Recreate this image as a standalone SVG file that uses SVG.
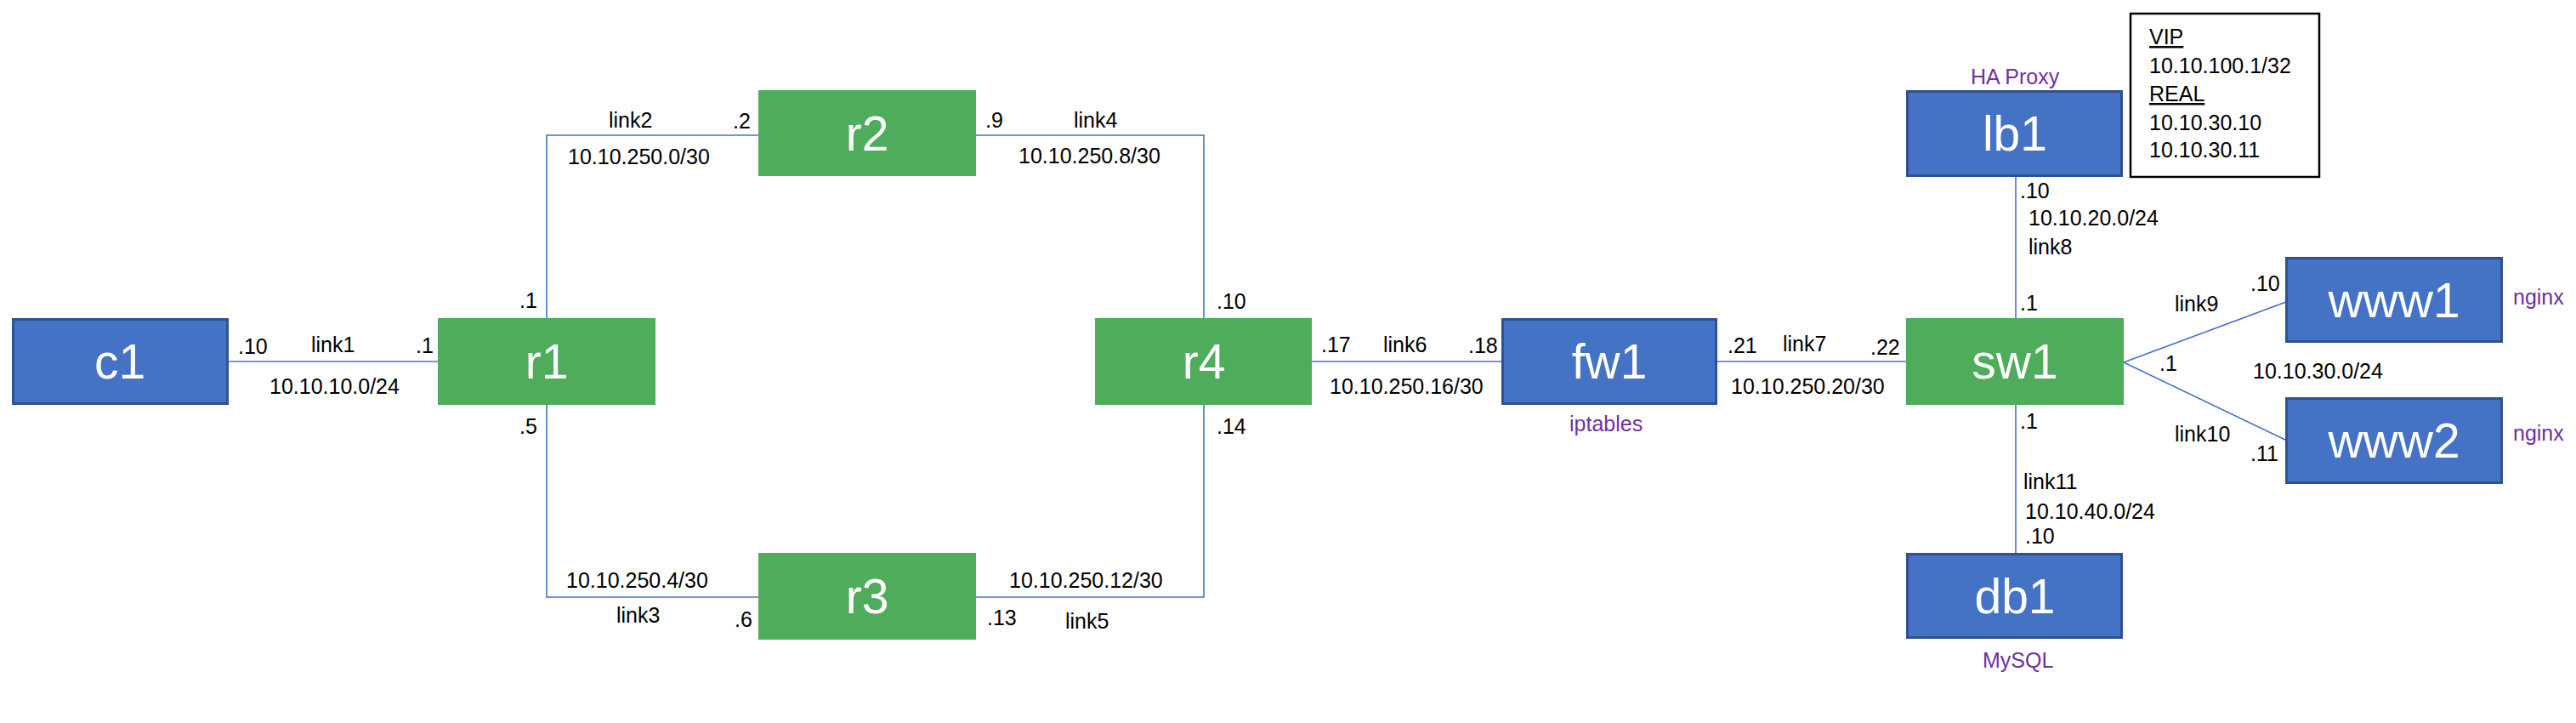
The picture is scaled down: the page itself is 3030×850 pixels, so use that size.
<svg xmlns="http://www.w3.org/2000/svg" width="3030" height="850" viewBox="0 0 3030 850">
<style>
.bg{fill:#ffffff}
.blue{fill:#4472C4;stroke:#2F528F;stroke-width:3}
.green{fill:#4EAC5B}
.lbl{font-family:"Liberation Sans",Arial,sans-serif;font-size:57px;fill:#ffffff;text-anchor:middle}
.t{font-family:"Liberation Sans",Arial,sans-serif;font-size:25px;fill:#000000}
.p{font-family:"Liberation Sans",Arial,sans-serif;font-size:25px;fill:#7030A0}
.ln{fill:none;stroke:#4472C4;stroke-width:1.6}
.info{fill:#ffffff;stroke:#000000;stroke-width:2.5}
</style>
<rect class="bg" x="0" y="0" width="3030" height="850"/>
<g id="connectors">
<line class="ln" x1="269" y1="425" x2="515" y2="425"/>
<polyline class="ln" points="643,374 643,159 892,159"/>
<polyline class="ln" points="643,476 643,702 892,702"/>
<polyline class="ln" points="1148,159 1416,159 1416,374"/>
<polyline class="ln" points="1148,702 1416,702 1416,476"/>
<line class="ln" x1="1543" y1="425" x2="1766" y2="425"/>
<line class="ln" x1="2020" y1="425" x2="2242" y2="425"/>
<line class="ln" x1="2371" y1="207" x2="2371" y2="374"/>
<line class="ln" x1="2498" y1="426" x2="2689" y2="355"/>
<line class="ln" x1="2498" y1="426" x2="2690" y2="518"/>
<line class="ln" x1="2371" y1="476" x2="2371" y2="650"/>
</g>
<g id="link-labels">
<text class="t" x="280" y="416">.10</text>
<text class="t" x="366" y="414">link1</text>
<text class="t" x="489" y="415">.1</text>
<text class="t" x="317" y="463">10.10.10.0/24</text>
<text class="t" x="611" y="362">.1</text>
<text class="t" x="716" y="150">link2</text>
<text class="t" x="862" y="151">.2</text>
<text class="t" x="668" y="193">10.10.250.0/30</text>
<text class="t" x="611" y="510">.5</text>
<text class="t" x="666" y="691">10.10.250.4/30</text>
<text class="t" x="725" y="732">link3</text>
<text class="t" x="864" y="737">.6</text>
<text class="t" x="1159" y="150">.9</text>
<text class="t" x="1263" y="150">link4</text>
<text class="t" x="1198" y="192">10.10.250.8/30</text>
<text class="t" x="1431" y="363">.10</text>
<text class="t" x="1431" y="510">.14</text>
<text class="t" x="1187" y="691">10.10.250.12/30</text>
<text class="t" x="1161" y="735">.13</text>
<text class="t" x="1253" y="739">link5</text>
<text class="t" x="1554" y="414">.17</text>
<text class="t" x="1627" y="414">link6</text>
<text class="t" x="1727" y="415">.18</text>
<text class="t" x="1564" y="463">10.10.250.16/30</text>
<text class="t" x="2032" y="415">.21</text>
<text class="t" x="2097" y="413">link7</text>
<text class="t" x="2200" y="417">.22</text>
<text class="t" x="2036" y="463">10.10.250.20/30</text>
<text class="t" x="2376" y="233">.10</text>
<text class="t" x="2386" y="265">10.10.20.0/24</text>
<text class="t" x="2386" y="299">link8</text>
<text class="t" x="2376" y="365">.1</text>
<text class="t" x="2647" y="342">.10</text>
<text class="t" x="2558" y="366">link9</text>
<text class="t" x="2540" y="436">.1</text>
<text class="t" x="2650" y="445">10.10.30.0/24</text>
<text class="t" x="2558" y="519">link10</text>
<text class="t" x="2647" y="542">.11</text>
<text class="t" x="2376" y="504">.1</text>
<text class="t" x="2380" y="575">link11</text>
<text class="t" x="2382" y="610">10.10.40.0/24</text>
<text class="t" x="2382" y="639">.10</text>
</g>
<g id="c1">
<rect class="blue" x="15.5" y="375.5" width="252" height="99"/>
<text class="lbl" x="141" y="445">c1</text>
</g>
<g id="r1">
<rect class="green" x="515" y="374" width="256" height="102"/>
<text class="lbl" x="643" y="445">r1</text>
</g>
<g id="r2">
<rect class="green" x="892" y="106" width="256" height="101"/>
<text class="lbl" x="1020" y="177">r2</text>
</g>
<g id="r3">
<rect class="green" x="892" y="650" width="256" height="102"/>
<text class="lbl" x="1020" y="721">r3</text>
</g>
<g id="r4">
<rect class="green" x="1288" y="374" width="255" height="102"/>
<text class="lbl" x="1416" y="445">r4</text>
</g>
<g id="fw1">
<rect class="blue" x="1767.5" y="375.5" width="251" height="99"/>
<text class="lbl" x="1893" y="445">fw1</text>
<text class="p" x="1846" y="507">iptables</text>
</g>
<g id="sw1">
<rect class="green" x="2242" y="374" width="256" height="102"/>
<text class="lbl" x="2370" y="445">sw1</text>
</g>
<g id="lb1">
<rect class="blue" x="2243.5" y="107.5" width="252" height="99"/>
<text class="lbl" x="2370" y="177">lb1</text>
<text class="p" x="2318" y="99">HA Proxy</text>
</g>
<g id="db1">
<rect class="blue" x="2243.5" y="651.5" width="252" height="98"/>
<text class="lbl" x="2370" y="721">db1</text>
<text class="p" x="2332" y="785">MySQL</text>
</g>
<g id="www1">
<rect class="blue" x="2689.5" y="303.5" width="253" height="98"/>
<text class="lbl" x="2816" y="373">www1</text>
<text class="p" x="2956" y="358">nginx</text>
</g>
<g id="www2">
<rect class="blue" x="2689.5" y="468.5" width="253" height="99"/>
<text class="lbl" x="2816" y="538">www2</text>
<text class="p" x="2956" y="518">nginx</text>
</g>
<g id="info">
<rect class="info" x="2506" y="16" width="222" height="192"/>
<text class="t" x="2528" y="52" text-decoration="underline">VIP</text>
<text class="t" x="2528" y="86">10.10.100.1/32</text>
<text class="t" x="2528" y="119" text-decoration="underline">REAL</text>
<text class="t" x="2528" y="153">10.10.30.10</text>
<text class="t" x="2528" y="185">10.10.30.11</text>
</g>
</svg>
